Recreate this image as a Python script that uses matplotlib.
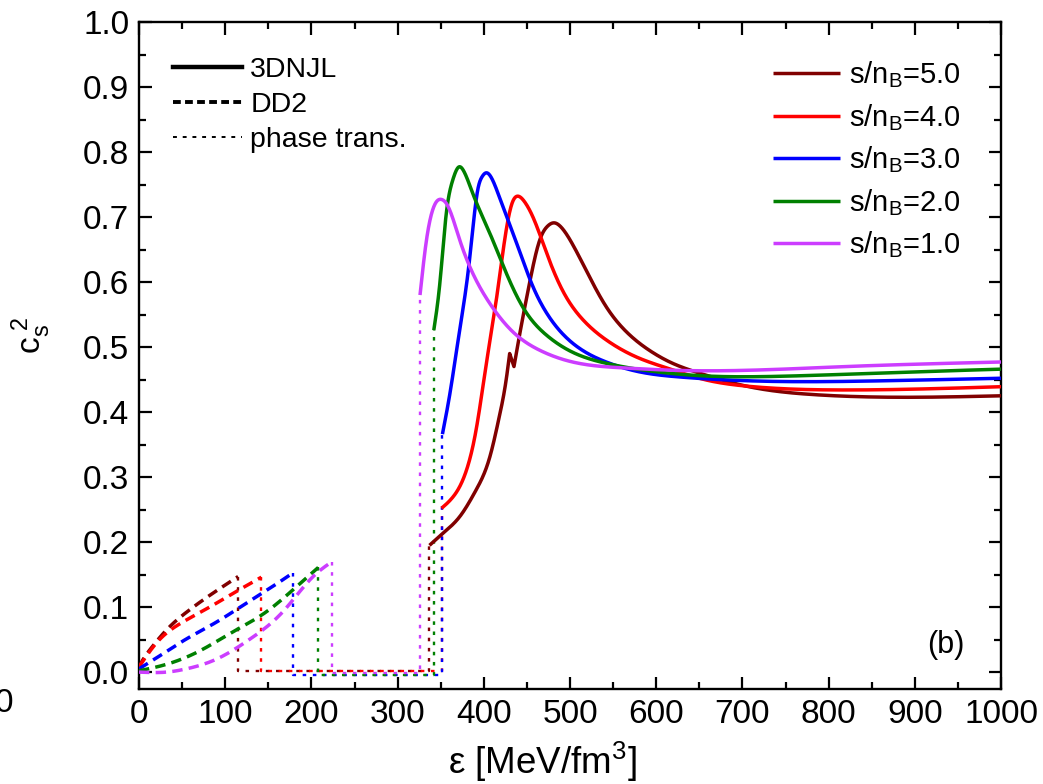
import matplotlib
matplotlib.use("Agg")
import matplotlib.pyplot as plt
from matplotlib.lines import Line2D
import numpy as np

plt.rcParams['font.family'] = ['Liberation Sans', 'DejaVu Sans']
plt.rcParams['mathtext.fontset'] = 'custom'
plt.rcParams['mathtext.rm'] = 'Liberation Sans'
plt.rcParams['mathtext.it'] = 'Liberation Sans:italic'
plt.rcParams['mathtext.bf'] = 'Liberation Sans:bold'

# ---------------- data ----------------
labels = ["s/n$_\\mathrm{B}$=5.0", "s/n$_\\mathrm{B}$=4.0", "s/n$_\\mathrm{B}$=3.0",
          "s/n$_\\mathrm{B}$=2.0", "s/n$_\\mathrm{B}$=1.0"]
colors = ["#800000", "#ff0000", "#0000ff", "#008000", "#cc3dff"]

# 3DNJL (solid) curves: energy density, cs^2
njl_x_5 = [337, 353, 372, 391, 407, 418, 426, 430, 435, 441, 453, 465, 474, 482, 490, 503, 523, 542, 565, 592, 619, 650, 704, 781, 859, 1000]
njl_y_5 = [0.195, 0.214, 0.239, 0.280, 0.331, 0.393, 0.450, 0.490, 0.470, 0.515, 0.598, 0.665, 0.686, 0.691, 0.684, 0.658, 0.607, 0.562, 0.524, 0.495, 0.475, 0.460, 0.440, 0.427, 0.423, 0.425]
njl_break_5 = 7  # index after which the curve has its small kink

njl_x_4 = [351, 364, 380, 391, 403, 415, 426, 433, 440, 447, 457, 473, 491, 515, 542, 580, 619, 650, 704, 820, 1000]
njl_y_4 = [0.252, 0.269, 0.311, 0.372, 0.475, 0.577, 0.680, 0.722, 0.732, 0.724, 0.700, 0.644, 0.588, 0.542, 0.511, 0.483, 0.465, 0.452, 0.440, 0.434, 0.439]

njl_x_3 = [352, 360, 372, 383, 393, 398, 403, 409, 418, 438, 457, 476, 503, 542, 580, 627, 743, 859, 1000]
njl_y_3 = [0.366, 0.423, 0.526, 0.629, 0.742, 0.762, 0.768, 0.760, 0.731, 0.660, 0.593, 0.546, 0.506, 0.477, 0.462, 0.454, 0.447, 0.448, 0.452]

njl_x_2 = [342, 349, 356, 364, 371, 377, 387, 407, 426, 445, 473, 503, 542, 600, 650, 743, 859, 1000]
njl_y_2 = [0.526, 0.598, 0.700, 0.757, 0.777, 0.770, 0.737, 0.675, 0.614, 0.562, 0.518, 0.492, 0.475, 0.462, 0.456, 0.455, 0.460, 0.466]

njl_x_1 = [326, 333, 340, 346, 351, 357, 372, 387, 407, 434, 465, 503, 561, 627, 820, 1000]
njl_y_1 = [0.580, 0.660, 0.708, 0.725, 0.727, 0.720, 0.665, 0.614, 0.567, 0.523, 0.495, 0.477, 0.468, 0.464, 0.470, 0.477]

# DD2 (dashed) curves
dd2_x_5 = [0, 5, 13, 32, 55, 82, 115]
dd2_y_5 = [0.008, 0.020, 0.035, 0.065, 0.092, 0.118, 0.147]
dd2_x_4 = [0, 21, 47, 78, 109, 142]
dd2_y_4 = [0.008, 0.046, 0.074, 0.097, 0.121, 0.146]
dd2_x_3 = [0, 24, 55, 90, 121, 152, 179]
dd2_y_3 = [0.005, 0.025, 0.051, 0.077, 0.103, 0.129, 0.153]
dd2_x_2 = [0, 32, 71, 109, 148, 179, 208]
dd2_y_2 = [0.002, 0.012, 0.033, 0.062, 0.093, 0.127, 0.161]
dd2_x_1 = [0, 32, 55, 90, 129, 167, 202, 224]
dd2_y_1 = [0.000, 0.000, 0.005, 0.020, 0.051, 0.093, 0.147, 0.170]

# phase transition (mixed phase) levels
mixed_y = [0.002, 0.002, -0.004, -0.004, -0.002]

njl_x = [njl_x_5, njl_x_4, njl_x_3, njl_x_2, njl_x_1]
njl_y = [njl_y_5, njl_y_4, njl_y_3, njl_y_2, njl_y_1]
njl_breaks = [njl_break_5, None, None, None, None]
dd2_x = [dd2_x_5, dd2_x_4, dd2_x_3, dd2_x_2, dd2_x_1]
dd2_y = [dd2_y_5, dd2_y_4, dd2_y_3, dd2_y_2, dd2_y_1]

xticks = [0, 100, 200, 300, 400, 500, 600, 700, 800, 900, 1000]
yticks = [0.0, 0.1, 0.2, 0.3, 0.4, 0.5, 0.6, 0.7, 0.8, 0.9, 1.0]


def spline(xs, ys, n_per=30):
    """natural cubic spline through the read-off points"""
    x = np.asarray(xs, float)
    y = np.asarray(ys, float)
    n = len(x)
    if n < 3:
        return x, y
    h = np.diff(x)
    A = np.zeros((n, n))
    b = np.zeros(n)
    A[0, 0] = 1
    A[-1, -1] = 1
    for k in range(1, n - 1):
        A[k, k - 1] = h[k - 1]
        A[k, k] = 2 * (h[k - 1] + h[k])
        A[k, k + 1] = h[k]
        b[k] = 6 * ((y[k + 1] - y[k]) / h[k] - (y[k] - y[k - 1]) / h[k - 1])
    M = np.linalg.solve(A, b)
    X, Y = [], []
    for k in range(n - 1):
        t = np.linspace(x[k], x[k + 1], n_per, endpoint=False)
        a = x[k + 1] - t
        c = t - x[k]
        s = (M[k] * a**3 + M[k + 1] * c**3) / (6 * h[k]) \
            + (y[k] / h[k] - M[k] * h[k] / 6) * a + (y[k + 1] / h[k] - M[k + 1] * h[k] / 6) * c
        X.append(t)
        Y.append(s)
    X.append([x[-1]])
    Y.append([y[-1]])
    return np.concatenate(X), np.concatenate(Y)


W, H = 1043, 784
fig = plt.figure(figsize=(W / 100, H / 100), dpi=100)
ax = fig.add_axes([139 / W, 1 - 689 / H, (1001 - 139) / W, (689 - 22) / H])

lw_solid = 2.5
dot_style = (0, (1.5, 2.8))
for i in range(5):
    c = colors[i]
    # DD2
    dx, dy = spline(dd2_x[i], dd2_y[i])
    ax.plot(dx, dy, color=c, lw=lw_solid, ls=(0, (3.0, 1.8)), zorder=3)
    # phase transition path
    x_end, y_end = dd2_x[i][-1], dd2_y[i][-1]
    x_start, y_start = njl_x[i][0], njl_y[i][0]
    ax.plot([x_end, x_end, x_start, x_start], [y_end, mixed_y[i], mixed_y[i], y_start],
            color=c, lw=1.7, ls=dot_style, zorder=2)
    # 3DNJL
    br = njl_breaks[i]
    if br is None:
        sx, sy = spline(njl_x[i], njl_y[i])
    else:
        ax1, ay1 = spline(njl_x[i][:br + 1], njl_y[i][:br + 1])
        ax2, ay2 = spline(njl_x[i][br + 1:], njl_y[i][br + 1:])
        sx = np.concatenate([ax1, ax2])
        sy = np.concatenate([ay1, ay2])
    ax.plot(sx, sy, color=c, lw=lw_solid, solid_capstyle='butt', solid_joinstyle='round',
            label=labels[i], zorder=4)

ax.set_xlim(0, 1000)
ax.set_ylim(-0.026, 1.0)
ax.set_xticks(xticks)
ax.set_yticks(yticks)
ax.set_xticklabels([str(t) for t in xticks])
ax.set_yticklabels([f"{t:.1f}" for t in yticks])
ax.set_xticks(np.arange(50, 1000, 100), minor=True)
ax.set_yticks(np.arange(0.05, 1.0, 0.1), minor=True)
ax.tick_params(which='both', direction='in', top=True, right=True, width=1.6, labelsize=24, pad=7)
ax.tick_params(which='major', length=9)
ax.tick_params(which='minor', length=5)
for s in ax.spines.values():
    s.set_linewidth(1.7)

fig.text(542 / W, 1 - 774 / H, "ε [MeV/fm$^3$]", fontsize=26.5, ha='center', va='baseline')
fig.text(31 / W, 1 - 335 / H, "c$_\\mathrm{s}^{\\ 2}$", rotation=90, ha='center', va='center', fontsize=24)
fig.text(13 / W, 1 - 703 / H, "0", ha='right', va='center', fontsize=24)

# right legend (s/nB)
leg1 = ax.legend(loc='upper right', bbox_to_anchor=(0.953, 0.944), frameon=False, fontsize=21,
                 handlelength=2.3, handletextpad=0.3, labelspacing=0.4, borderaxespad=0, borderpad=0)
ax.add_artist(leg1)

# left legend (line styles)
h = [Line2D([], [], color='k', lw=3.2),
     Line2D([], [], color='k', lw=2.8, ls=(0, (2.0, 1.1))),
     Line2D([], [], color='k', lw=1.4, ls=(0, (2.0, 3.0)))]
leg2 = ax.legend(h, ["3DNJL", "DD2", "phase trans."], loc='upper left', bbox_to_anchor=(0.04, 0.948),
                 frameon=False, fontsize=20.5, handlelength=2.4, handletextpad=0.3, labelspacing=0.32,
                 borderaxespad=0, borderpad=0)

ax.text(936, 0.042, "(b)", fontsize=22, ha='center', va='center')

fig.savefig("out.png", dpi=100)
